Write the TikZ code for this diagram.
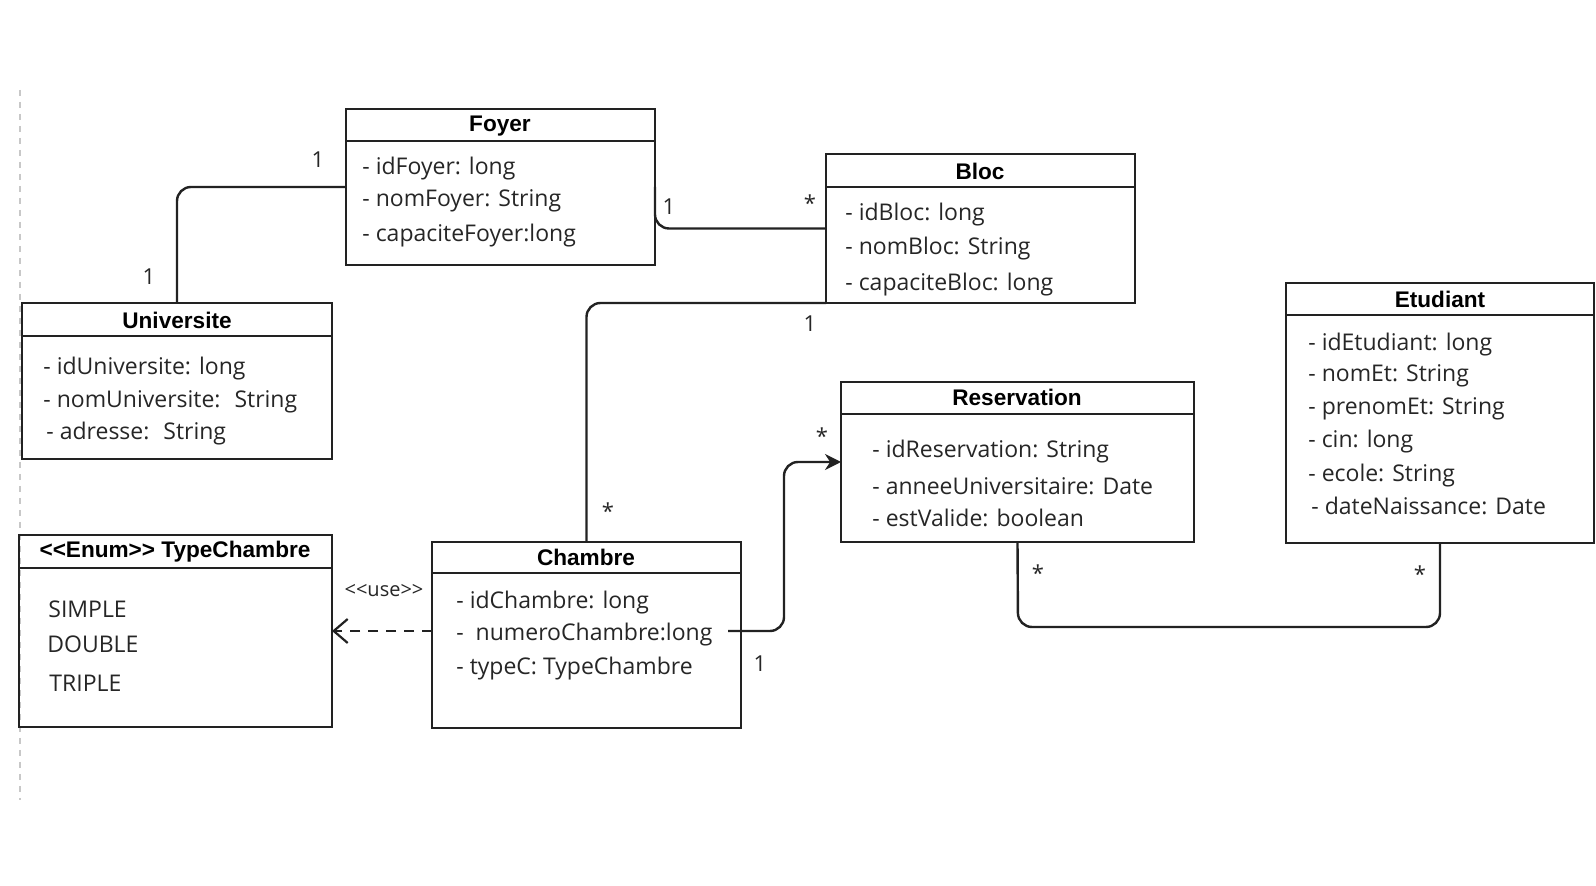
\documentclass[tikz,border=0pt]{standalone}
\usepackage{fontspec}
\setmainfont{Open Sans}
\newfontfamily\titlefont{Liberation Sans}
\usetikzlibrary{arrows.meta,calc}
\definecolor{linec}{HTML}{222222}
\definecolor{textc}{HTML}{262626}
\definecolor{pagec}{HTML}{C8C8C8}
\begin{document}
\begin{tikzpicture}[x=0.5pt,y=-0.5pt,
  box/.style={draw=linec, line width=1.2pt, anchor=north west, inner sep=0pt, outer sep=0pt},
  hdr/.style={draw=linec, line width=1.2pt},
  ttl/.style={font=\titlefont\bfseries\fontsize{11.3}{13}\selectfont, text=black, inner sep=0pt},
  attr/.style={font=\fontsize{11.5}{14}\selectfont, text=textc, anchor=west, inner sep=0pt},
  mult/.style={font=\fontsize{11}{13}\selectfont, text=textc, inner sep=0pt},
  conn/.style={draw=linec, line width=1.2pt, rounded corners=7pt},
]
\useasboundingbox (0,0) rectangle (1596,886);
\fill[white] (0,0) rectangle (1596,886);
% page border artifact
\draw[pagec, line width=0.6pt, dash pattern=on 3pt off 3pt] (20,90) -- (20,800);

% ---------- boxes ----------
\node[box, minimum width=154.5pt, minimum height=78pt] (foyer) at (346,109) {};
\node[box, minimum width=155pt, minimum height=78pt] (univ) at (22,303) {};
\node[box, minimum width=154.5pt, minimum height=74.5pt] (bloc) at (826,154) {};
\node[box, minimum width=176.5pt, minimum height=80pt] (res) at (841,382) {};
\node[box, minimum width=154pt, minimum height=130pt] (etud) at (1286,283) {};
\node[box, minimum width=156.5pt, minimum height=96pt] (typec) at (19,535) {};
\node[box, minimum width=154.5pt, minimum height=93pt] (chambre) at (432,542) {};

\foreach \b/\h in {foyer/32, univ/33, bloc/33, res/32, etud/32, typec/33, chambre/31}{
  \draw[hdr] ($(\b.north west)+(0,\h)$) -- ($(\b.north east)+(0,\h)$);
}

% ---------- titles ----------
\node[ttl] (foyerT) at (500,126) {Foyer};
\node[ttl] (univT) at (177,320) {Universite};
\node[ttl] (blocT) at (980,171) {Bloc};
\node[ttl] (resT) at (1017,397) {Reservation};
\node[ttl] (etudT) at (1440,299) {Etudiant};
\node[ttl] (typecT) at (175,552) {<{}<Enum>{}> TypeChambre};
\node[ttl] (chambreT) at (586,557) {Chambre};

% ---------- attributes ----------
\node[attr] (f1) at (362,169) {- idFoyer: long};
\node[attr] (f2) at (362,201) {- nomFoyer: String};
\node[attr] (f3) at (362,236) {- capaciteFoyer:long};

\node[attr] (u1) at (43,369) {- idUniversite: long};
\node[attr] (u2) at (43,402) {- nomUniversite:~ String};
\node[attr] (u3) at (46,434) {- adresse:~ String};

\node[attr] (b1) at (845,215) {- idBloc: long};
\node[attr] (b2) at (845,249) {- nomBloc: String};
\node[attr] (b3) at (845,285) {- capaciteBloc: long};

\node[attr] (r1) at (872,452) {- idReservation: String};
\node[attr] (r2) at (872,486) {- anneeUniversitaire: Date};
\node[attr] (r3) at (872,518) {- estValide: boolean};

\node[attr] (e1) at (1308,345) {- idEtudiant: long};
\node[attr] (e2) at (1308,376) {- nomEt: String};
\node[attr] (e3) at (1308,409) {- prenomEt: String};
\node[attr] (e4) at (1308,442) {- cin: long};
\node[attr] (e5) at (1308,476) {- ecole: String};
\node[attr] (e6) at (1311,506) {- dateNaissance: Date};

\node[attr] (t1) at (48,609) {SIMPLE};
\node[attr] (t2) at (47,644) {DOUBLE};
\node[attr] (t3) at (49,683) {TRIPLE};

\node[attr] (c1) at (456,603) {- idChambre: long};
\node[attr] (c2) at (456,635) {-~ numeroChambre:long};
\node[attr] (c3) at (456,669) {- typeC: TypeChambre};

% ---------- connectors ----------
\draw[conn] (univ.north) |- (foyer.west);
\draw[conn] (foyer.east) -- (foyer.east |- bloc.west) -- (bloc.west);
\draw[conn] (bloc.south west) -| (chambre.north);
\coordinate (cstart) at (728,631);
\coordinate (cbend) at (784,631);
\draw[conn, -{Stealth[length=8pt,width=8pt]}] (cstart) -- (cbend) |- (res.west);
\coordinate (rbot) at (1018,627);
\draw[conn] (res.south) -- (rbot) -| (etud.south);
\draw[draw=linec, line width=1.2pt, dash pattern=on 5pt off 4pt, -{Straight Barb[length=7pt,width=12pt,line width=1.1pt]}] (chambre.west |- typec.east) -- (typec.east);

% ---------- multiplicities ----------
\node[mult] (m1) at (318,160) {1};
\node[mult] (m2) at (149,277) {1};
\node[mult] (m3) at (669,207) {1};
\node[mult] (m4) at (810,203) {*};
\node[mult] (m5) at (810,324) {1};
\node[mult] (m6) at (608,511) {*};
\node[mult] (m7) at (822,436) {*};
\node[mult] (m8) at (760,664) {1};
\node[mult] (m9) at (1038,573) {*};
\node[mult] (m10) at (1420,574) {*};
\node[mult, font=\fontsize{10}{12}\selectfont] (use) at (384,591) {<{}<use>{}>};
\end{tikzpicture}
\end{document}
